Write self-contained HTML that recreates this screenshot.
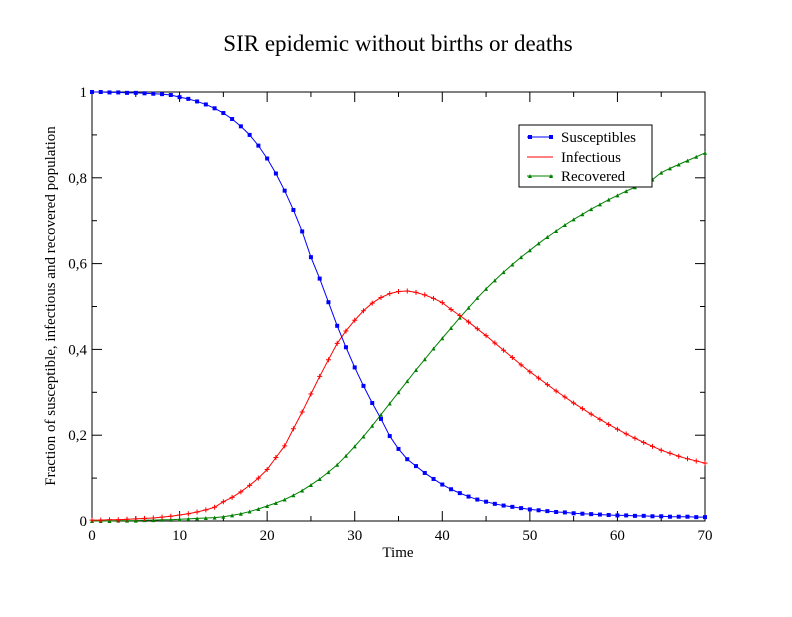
<!DOCTYPE html>
<html><head><meta charset="utf-8"><style>
body{margin:0;background:#fff}
svg text{font-family:"Liberation Serif",serif;fill:#000}
</style></head><body>
<svg id="chart" width="792" height="612" viewBox="0 0 792 612" xmlns="http://www.w3.org/2000/svg">
<rect width="792" height="612" fill="#fff"/>
<text x="398" y="51" font-size="23" text-anchor="middle">SIR epidemic without births or deaths</text>
<text x="398" y="557" font-size="15" text-anchor="middle">Time</text>
<text transform="translate(55,306) rotate(-90)" font-size="15" text-anchor="middle">Fraction of susceptible, infectious and recovered population</text>
<g id="axes"></g>
<g id="series"></g>
<g>
<rect x="519" y="125" width="133" height="62" fill="#fff" stroke="#000" stroke-width="1"/>
<line x1="527" y1="137" x2="553" y2="137" stroke="#0000ff"/><rect x="528" y="135" width="4" height="4" fill="#0000ff"/><rect x="549" y="135" width="4" height="4" fill="#0000ff"/>
<text x="561" y="142" font-size="15">Susceptibles</text>
<line x1="527" y1="157" x2="553" y2="157" stroke="#ff0000"/>
<text x="561" y="162" font-size="15">Infectious</text>
<line x1="527" y1="176" x2="553" y2="176" stroke="#008000"/><path d="M528 178 L530 174 L532 178Z M549 178 L551 174 L553 178Z" fill="#008000"/>
<text x="561" y="181" font-size="15">Recovered</text>
</g>
</svg>
<script>
const times=[];for(let t=0;t<=70;t++)times.push(t);
const susceptibles=[1.000,1.000,0.999,0.999,0.998,0.998,0.997,0.996,0.995,0.993,0.988,0.984,0.978,0.971,0.962,0.951,0.937,0.920,0.900,0.875,0.845,0.810,0.770,0.725,0.675,0.615,0.565,0.510,0.455,0.405,0.358,0.315,0.275,0.238,0.198,0.168,0.144,0.128,0.112,0.098,0.085,0.074,0.065,0.057,0.050,0.045,0.040,0.036,0.033,0.030,0.027,0.025,0.023,0.021,0.020,0.018,0.017,0.016,0.015,0.014,0.013,0.013,0.012,0.012,0.011,0.011,0.010,0.010,0.010,0.009,0.009];
const infectious=[0.002,0.002,0.003,0.003,0.004,0.005,0.006,0.007,0.009,0.011,0.014,0.017,0.021,0.026,0.032,0.045,0.055,0.068,0.083,0.100,0.120,0.148,0.175,0.215,0.254,0.296,0.337,0.376,0.414,0.443,0.468,0.490,0.508,0.521,0.530,0.535,0.536,0.533,0.527,0.519,0.509,0.493,0.479,0.464,0.448,0.432,0.415,0.398,0.381,0.364,0.348,0.333,0.318,0.303,0.289,0.275,0.262,0.249,0.237,0.225,0.214,0.203,0.193,0.183,0.174,0.165,0.158,0.151,0.145,0.140,0.135];
const recovered=[0.000,0.000,0.000,0.001,0.001,0.001,0.002,0.002,0.003,0.003,0.004,0.005,0.006,0.007,0.008,0.010,0.013,0.017,0.022,0.028,0.035,0.042,0.050,0.060,0.071,0.084,0.098,0.114,0.131,0.152,0.174,0.197,0.222,0.248,0.274,0.300,0.326,0.352,0.377,0.402,0.426,0.450,0.474,0.497,0.520,0.541,0.561,0.580,0.598,0.615,0.631,0.647,0.662,0.676,0.690,0.703,0.715,0.727,0.738,0.749,0.759,0.769,0.778,0.787,0.796,0.812,0.822,0.831,0.840,0.849,0.858];
const xTicks=[0,10,20,30,40,50,60,70];
const yTicks=[0,0.2,0.4,0.6,0.8,1];
const yTickLabels=["0","0,2","0,4","0,6","0,8","1"];
const X0=92,X1=705,Y0=521,Y1=92;
const sx=v=>X0+(v-0)/70*(X1-X0), sy=v=>Y0-v*(Y0-Y1);
const NS="http://www.w3.org/2000/svg";
function mk(tag,attrs,parent){const e=document.createElementNS(NS,tag);for(const k in attrs)e.setAttribute(k,attrs[k]);parent.appendChild(e);return e;}
const axes=document.getElementById('axes');
const frame=mk('rect',{x:X0,y:Y1,width:X1-X0,height:Y0-Y1,fill:'none',stroke:'#000','stroke-width':1},axes);


for(let v=0;v<=70;v+=5){const maj=v%10===0,L=maj?10:5,x=sx(v);
 mk('line',{x1:x,y1:Y0,x2:x,y2:Y0-L,stroke:'#000'},axes);
 mk('line',{x1:x,y1:Y1,x2:x,y2:Y1+L,stroke:'#000'},axes);}
for(let i=0;i<=10;i++){const v=i/10,maj=i%2===0,L=maj?10:5,y=sy(v);
 mk('line',{x1:X0,y1:y,x2:X0+L,y2:y,stroke:'#000'},axes);
 mk('line',{x1:X1,y1:y,x2:X1-L,y2:y,stroke:'#000'},axes);}
xTicks.forEach(v=>{const t=mk('text',{x:sx(v),y:Y0+19,'font-size':15,'text-anchor':'middle'},axes);t.textContent=v;
 
 });
yTicks.forEach((v,i)=>{const t=mk('text',{x:X0-5,y:sy(v)+5,'font-size':15,'text-anchor':'end'},axes);t.textContent=yTickLabels[i];
 
 });
const ser=document.getElementById('series');
function draw(data,color,name,marker){
 const g=mk('g',{},ser);
 
 
 mk('polyline',{points:data.map((v,i)=>sx(times[i])+','+sy(v)).join(' '),fill:'none',stroke:color,'stroke-width':1},g);
 data.forEach((v,i)=>{const x=sx(times[i]),y=sy(v);
  if(marker==='sq')mk('rect',{x:x-2,y:y-2,width:4,height:4,fill:color},g);
  else if(marker==='plus')mk('path',{d:`M${x-2.5} ${y}H${x+2.5}M${x} ${y-2.5}V${y+2.5}`,stroke:color,'stroke-width':1},g);
  else mk('path',{d:`M${x-2} ${y+2}L${x} ${y-2}L${x+2} ${y+2}Z`,fill:color},g);});
}
draw(recovered,'#008000','recovered-series','tri');
draw(infectious,'#ff0000','infectious-series','plus');
draw(susceptibles,'#0000ff','susceptibles-series','sq');
</script>
</body></html>
